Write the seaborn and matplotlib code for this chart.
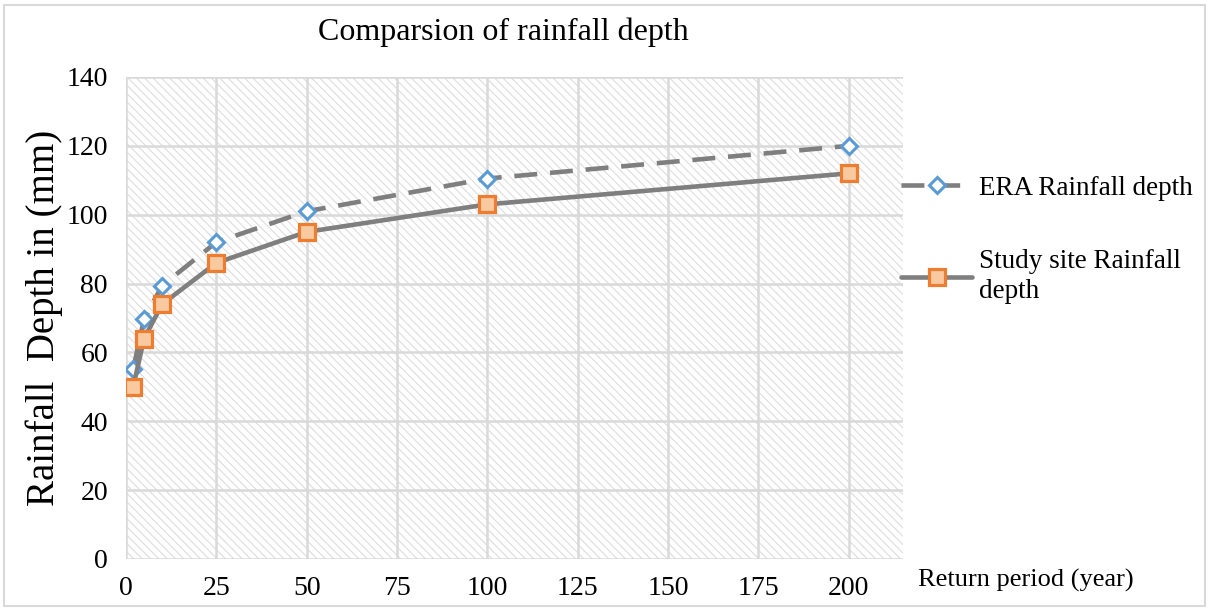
import matplotlib
matplotlib.use("Agg")
import matplotlib.pyplot as plt
from matplotlib.patches import Rectangle
import pandas as pd
import seaborn as sns

return_period = [2, 5, 10, 25, 50, 100, 200]
era_depth = [55.2, 69.7, 79.4, 92.0, 101.0, 110.5, 120.0]
site_depth = [50.0, 64.0, 74.0, 86.0, 95.0, 103.0, 112.0]
x_ticks = [0, 25, 50, 75, 100, 125, 150, 175, 200]
y_ticks = [0, 20, 40, 60, 80, 100, 120, 140]

sns.set_theme(style="white")
plt.rcParams["font.family"] = ["Liberation Serif", "DejaVu Serif"]
plt.rcParams["text.color"] = "black"
plt.rcParams["hatch.linewidth"] = 0.8

fig = plt.figure(figsize=(12.09, 6.08), dpi=100)
ax = fig.add_axes([0.1042, 0.0806, 0.6427, 0.7928])

# hatched plot background
ax.add_patch(Rectangle((0, 0), 1, 1, transform=ax.transAxes, facecolor="white",
                       edgecolor="#dddddd", lw=0, hatch="\\\\\\\\", zorder=0))

df_era = pd.DataFrame({"x": return_period, "y": era_depth})
df_site = pd.DataFrame({"x": return_period, "y": site_depth})

line_gray = "#7f7f7f"
sns.lineplot(data=df_era, x="x", y="y", ax=ax, color=line_gray, lw=3.3,
             linestyle=(0, (5, 2.8)), marker="D", markersize=8.5,
             markerfacecolor="white", markeredgecolor="#5b9bd5",
             markeredgewidth=2.2, label="ERA Rainfall depth", zorder=3)
sns.lineplot(data=df_site, x="x", y="y", ax=ax, color=line_gray, lw=3.3,
             marker="s", markersize=11.5, markerfacecolor="#f9c9a0",
             markeredgecolor="#ed7d31", markeredgewidth=2.3,
             label="Study site Rainfall\ndepth", zorder=4)

ax.set_xlim(0, 215)
ax.set_ylim(0, 140)
ax.set_xticks(x_ticks)
ax.set_yticks(y_ticks)
ax.tick_params(axis="both", length=0, labelsize=20, colors="black")
ax.tick_params(axis="x", pad=12)
ax.tick_params(axis="y", pad=13)
ax.grid(True, color="#d9d9d9", lw=1.8, zorder=1)
ax.set_axisbelow(True)
for s in ax.spines.values():
    s.set_visible(False)

ax.set_xlabel("")
ax.set_ylabel("Rainfall  Depth in (mm)", fontsize=28, color="black")
ax.yaxis.set_label_coords(-0.081, 0.5)

fig.text(0.416, 0.947, "Comparsion of rainfall depth", fontsize=23,
         ha="center", va="center")
fig.text(0.759, 0.045, "Return period (year)", fontsize=19,
         ha="left", va="center")

leg = ax.legend(loc="upper left", bbox_to_anchor=(0.984, 0.818), frameon=False,
                fontsize=19.5, handlelength=2.6, handletextpad=0.25,
                labelspacing=1.8, borderaxespad=0)
for t in leg.get_texts():
    t.set_linespacing(1.25)
    t.set_color("black")

# light frame around the chart
fig.patches.append(Rectangle((0.003, 0.003), 0.994, 0.988,
                             transform=fig.transFigure, fill=False,
                             edgecolor="#d9d9d9", lw=1.5))

fig.savefig("out.png", dpi=100)
